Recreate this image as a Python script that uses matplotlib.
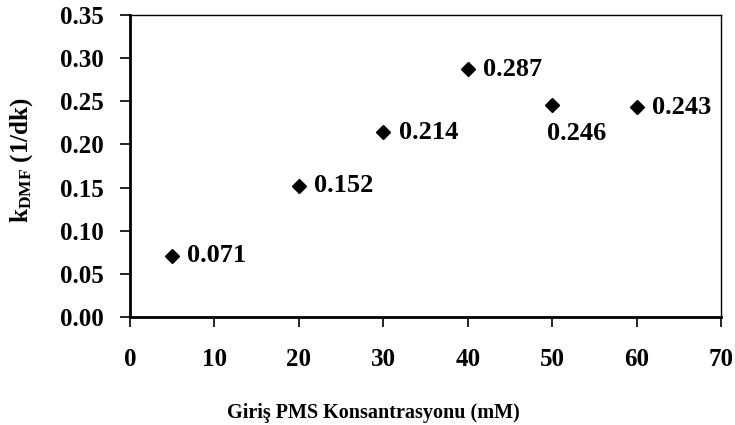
import matplotlib
matplotlib.use("Agg")
import matplotlib.pyplot as plt
from matplotlib.ticker import FormatStrFormatter, MultipleLocator

x_vals = [5, 20, 30, 40, 50, 60]
y_vals = [0.071, 0.152, 0.214, 0.287, 0.246, 0.243]
labels = ["0.071", "0.152", "0.214", "0.287", "0.246", "0.243"]

plt.rcParams['font.family'] = ['Liberation Serif', 'DejaVu Serif']
plt.rcParams['font.weight'] = 'bold'
plt.rcParams['mathtext.fontset'] = 'custom'
plt.rcParams['mathtext.rm'] = 'Liberation Serif:bold'
plt.rcParams['mathtext.bf'] = 'Liberation Serif:bold'
plt.rcParams['mathtext.it'] = 'Liberation Serif:bold'

fig = plt.figure(figsize=(7.35, 4.25), dpi=100)
ax = fig.add_axes([130/735, 1-317/425, (721-130)/735, (317-15)/425])

ax.plot(x_vals, y_vals, linestyle='none', marker='D', color='black', markersize=7)

for xv, yv, lab in zip(x_vals, y_vals, labels):
    if lab == "0.246":
        ax.annotate(lab, (xv, yv), xytext=(-4, -21), textcoords='offset points',
                    ha='left', va='center', fontsize=19, fontweight='bold')
    else:
        ax.annotate(lab, (xv, yv), xytext=(11, 0), textcoords='offset points',
                    ha='left', va='center', fontsize=19, fontweight='bold')

ax.set_xlim(0, 70)
ax.set_ylim(0, 0.35)
ax.xaxis.set_major_locator(MultipleLocator(10))
ax.yaxis.set_major_locator(MultipleLocator(0.05))
ax.yaxis.set_major_formatter(FormatStrFormatter('%.2f'))

for s in ['left', 'bottom']:
    ax.spines[s].set_linewidth(2.0)
for s in ['top', 'right']:
    ax.spines[s].set_linewidth(1.0)

ax.tick_params(axis='both', direction='out', length=7, width=1.2, labelsize=18)
ax.tick_params(axis='y', pad=12)
ax.tick_params(axis='x', pad=15)
for lab in ax.get_xticklabels() + ax.get_yticklabels():
    lab.set_fontweight('bold')

ax.set_xlabel('Giriş PMS Konsantrasyonu (mM)', fontsize=14.5, fontweight='bold')
ax.xaxis.set_label_coords(0.411, -0.285)
ax.set_ylabel(r'$\mathrm{k}_{\mathrm{DMF}}$ (1/dk)', fontsize=18, fontweight='bold')
ax.yaxis.set_label_coords(-0.16, 0.52)

fig.savefig('out.png', dpi=100)
